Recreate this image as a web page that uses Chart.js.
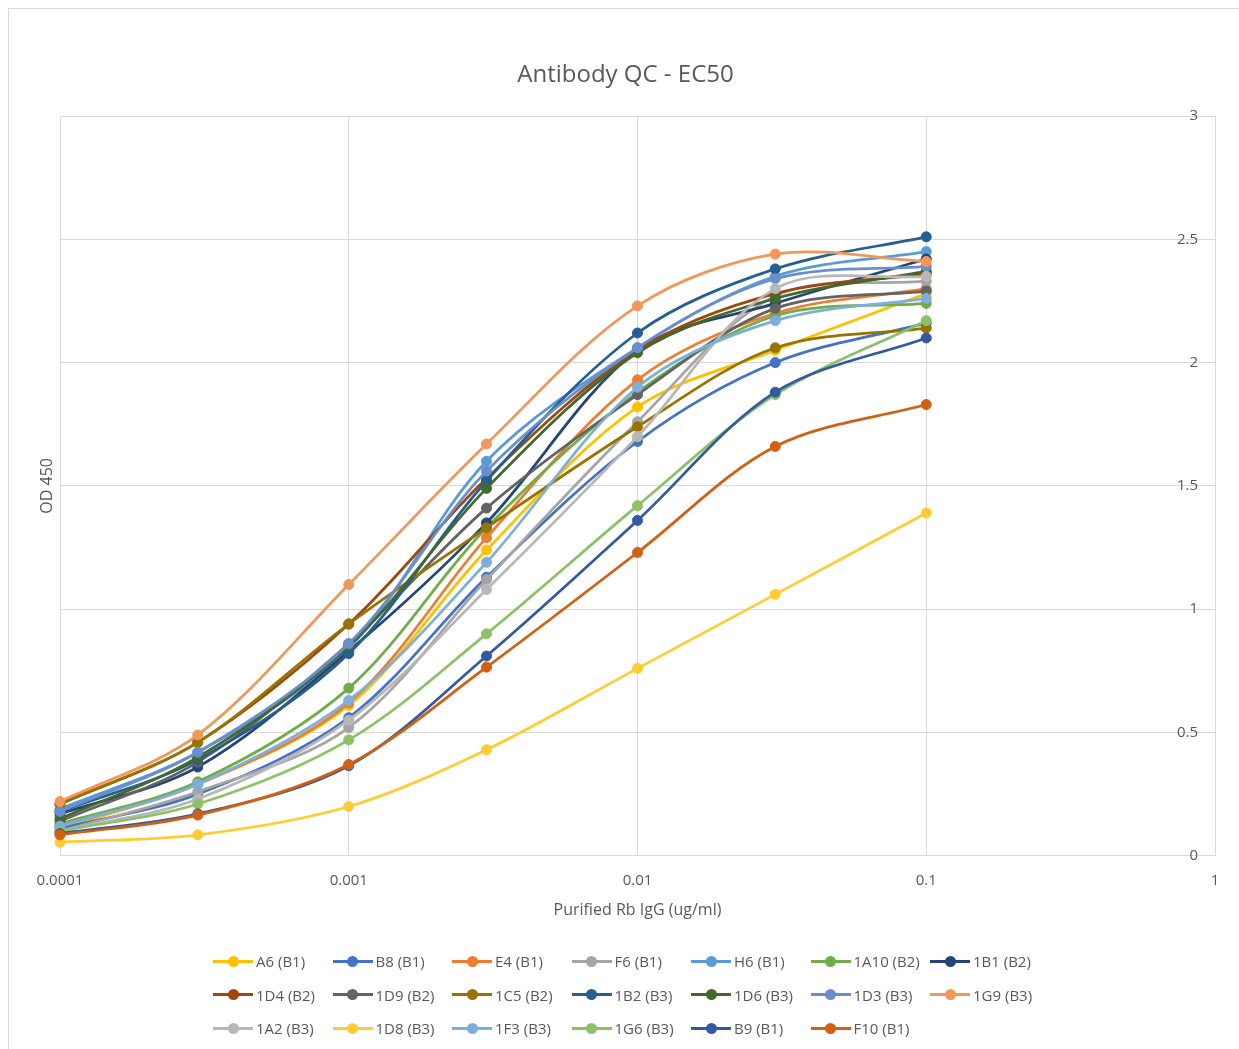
<!DOCTYPE html>
<html>
<head>
<meta charset="utf-8">
<title>Antibody QC - EC50</title>
<script src="https://cdn.jsdelivr.net/npm/chart.js@4.4.1/dist/chart.umd.min.js"></script>
<style>
  html, body { margin: 0; padding: 0; background: #fff; }
  #wrap { position: relative; width: 1239px; height: 1049px; overflow: hidden; }
  #frame { position: absolute; left: 8px; top: 8px; width: 1260px; height: 1060px;
           border: 1px solid #d9d9d9; box-sizing: border-box; pointer-events: none; }
  #chart { position: absolute; left: 0; top: 0; }
  #legend { position: absolute; left: 213px; top: 951px; width: 900px; height: 90px;
            font-family: 'Open Sans', sans-serif; font-size: 15px; color: #595959; }
  .item { position: absolute; height: 20px; display: flex; align-items: center; white-space: nowrap; }
  .sw { position: relative; width: 40px; height: 12px; margin-right: 3px; }
  .sw i { position: absolute; left: 0; right: 0; top: 4.5px; height: 3px; }
  .sw b { position: absolute; left: 14.5px; top: 0.5px; width: 11px; height: 11px; border-radius: 50%; }
</style>
</head>
<body>
<div id="wrap">
  <canvas id="chart" width="1239" height="1049"></canvas>
  <div id="legend"></div>
  <div id="frame"></div>
</div>
<script>
// concentrations (ug/ml)
const doses = [0.0001, 0.0003, 0.001, 0.003, 0.01, 0.03, 0.1];
const xTickValues = [0.0001, 0.001, 0.01, 0.1, 1];
const xTickLabels = ['0.0001', '0.001', '0.01', '0.1', '1'];

const seriesNames = ['A6 (B1)', 'B8 (B1)', 'E4 (B1)', 'F6 (B1)', 'H6 (B1)', '1A10 (B2)', '1B1 (B2)',
                     '1D4 (B2)', '1D9 (B2)', '1C5 (B2)', '1B2 (B3)', '1D6 (B3)', '1D3 (B3)', '1G9 (B3)',
                     '1A2 (B3)', '1D8 (B3)', '1F3 (B3)', '1G6 (B3)', 'B9 (B1)', 'F10 (B1)'];

const seriesColors = ['#FFC000', '#4472C4', '#ED7D31', '#A5A5A5', '#5B9BD5', '#70AD47', '#264478',
                      '#9E480E', '#636363', '#997300', '#255E91', '#43682B', '#698ED0', '#F1975A',
                      '#B7B7B7', '#FFCD33', '#7CAFDD', '#8CC168', '#335AA1', '#D26012'];

// OD 450 readings, one array per clone
const odA6   = [0.11, 0.29, 0.61, 1.24, 1.82, 2.05, 2.28];
const odB8   = [0.11, 0.25, 0.56, 1.13, 1.68, 2.00, 2.16];
const odE4   = [0.12, 0.29, 0.62, 1.29, 1.93, 2.20, 2.30];
const odF6   = [0.10, 0.26, 0.52, 1.12, 1.76, 2.27, 2.33];
const odH6   = [0.19, 0.42, 0.84, 1.60, 2.06, 2.35, 2.45];
const od1A10 = [0.13, 0.30, 0.68, 1.33, 1.88, 2.19, 2.24];
const od1B1  = [0.17, 0.36, 0.83, 1.35, 2.05, 2.24, 2.42];
const od1D4  = [0.21, 0.46, 0.94, 1.53, 2.05, 2.28, 2.36];
const od1D9  = [0.14, 0.38, 0.86, 1.41, 1.87, 2.22, 2.29];
const od1C5  = [0.21, 0.46, 0.94, 1.33, 1.74, 2.06, 2.14];
const od1B2  = [0.18, 0.39, 0.82, 1.52, 2.12, 2.38, 2.51];
const od1D6  = [0.15, 0.40, 0.85, 1.49, 2.04, 2.26, 2.37];
const od1D3  = [0.18, 0.42, 0.86, 1.56, 2.06, 2.34, 2.39];
const od1G9  = [0.22, 0.49, 1.10, 1.67, 2.23, 2.44, 2.41];
const od1A2  = [0.10, 0.23, 0.55, 1.08, 1.70, 2.30, 2.35];
const od1D8  = [0.055, 0.085, 0.20, 0.43, 0.76, 1.06, 1.39];
const od1F3  = [0.12, 0.29, 0.63, 1.19, 1.90, 2.17, 2.26];
const od1G6  = [0.10, 0.21, 0.47, 0.90, 1.42, 1.87, 2.17];
const odB9   = [0.09, 0.17, 0.365, 0.81, 1.36, 1.88, 2.10];
const odF10  = [0.085, 0.165, 0.37, 0.765, 1.23, 1.66, 1.83];

const seriesValues = [odA6, odB8, odE4, odF6, odH6, od1A10, od1B1, od1D4, od1D9, od1C5,
                      od1B2, od1D6, od1D3, od1G9, od1A2, od1D8, od1F3, od1G6, odB9, odF10];

Chart.defaults.font.family = "'Open Sans', sans-serif";
Chart.defaults.color = '#595959';

const n = seriesNames.length;
const datasets = seriesNames.map((name, i) => ({
  label: name,
  data: doses.map((d, j) => ({ x: d, y: seriesValues[i][j] })),
  borderColor: seriesColors[i],
  backgroundColor: seriesColors[i],
  pointBackgroundColor: seriesColors[i],
  pointBorderColor: seriesColors[i],
  borderWidth: 2.75,
  pointRadius: 5,
  pointBorderWidth: 1,
  tension: 0.33,
  fill: false,
  clip: false,
  yAxisID: 'y',
  order: n - i   // later series on top, like the spreadsheet
}));

const chart = new Chart(document.getElementById('chart'), {
  type: 'line',
  data: { datasets },
  options: {
    responsive: false,
    animation: false,
    layout: { padding: { left: 36, right: 24, top: 0, bottom: 125 } },
    scales: {
      x: {
        type: 'logarithmic',
        position: 'bottom',
        min: 0.0001, max: 1,
        afterBuildTicks: s => { s.ticks = xTickValues.map(v => ({ value: v })); },
        ticks: { callback: (v, i) => xTickLabels[i], font: { size: 15 }, padding: 16,
                 maxRotation: 0, autoSkip: false },
        grid: { color: '#d9d9d9', drawTicks: false },
        border: { color: '#d9d9d9' },
        title: { display: true, text: 'Purified Rb IgG (ug/ml)', font: { size: 16 },
                 padding: { top: -5, bottom: 4 } }
      },
      y: {
        position: 'right',
        min: 0, max: 3,
        ticks: { stepSize: 0.5, mirror: true, padding: -17, font: { size: 15 },
                 callback: v => String(v) },
        grid: { color: '#d9d9d9', drawTicks: false },
        border: { display: false },
        afterFit: s => { s.width = 0; }
      },
      yTitle: {
        type: 'linear',
        position: 'left',
        min: 0, max: 3,
        ticks: { display: false },
        grid: { display: false, drawTicks: false },
        border: { display: false },
        title: { display: true, text: 'OD 450', font: { size: 16 }, padding: { top: 1.4, bottom: 4 } },
        afterFit: s => { s.width = 24; }
      }
    },
    plugins: {
      title: { display: true, text: 'Antibody QC - EC50', font: { size: 24, weight: 'normal' },
               color: '#595959', padding: { top: 60.6, bottom: 26.6 } },
      legend: { display: false },
      tooltip: { enabled: false }
    }
  }
});

// legend below the plot, fixed grid of 7 columns
const legendEl = document.getElementById('legend');
chart.data.datasets.forEach((ds, i) => {
  const item = document.createElement('div');
  item.className = 'item';
  item.style.left = (i % 7) * 119.5 + 'px';
  item.style.top = Math.floor(i / 7) * 33.5 + 'px';
  item.innerHTML = '<span class="sw"><i style="background:' + ds.borderColor + '"></i>' +
                   '<b style="background:' + ds.borderColor + '"></b></span>' + ds.label;
  legendEl.appendChild(item);
});
</script>
</body>
</html>
